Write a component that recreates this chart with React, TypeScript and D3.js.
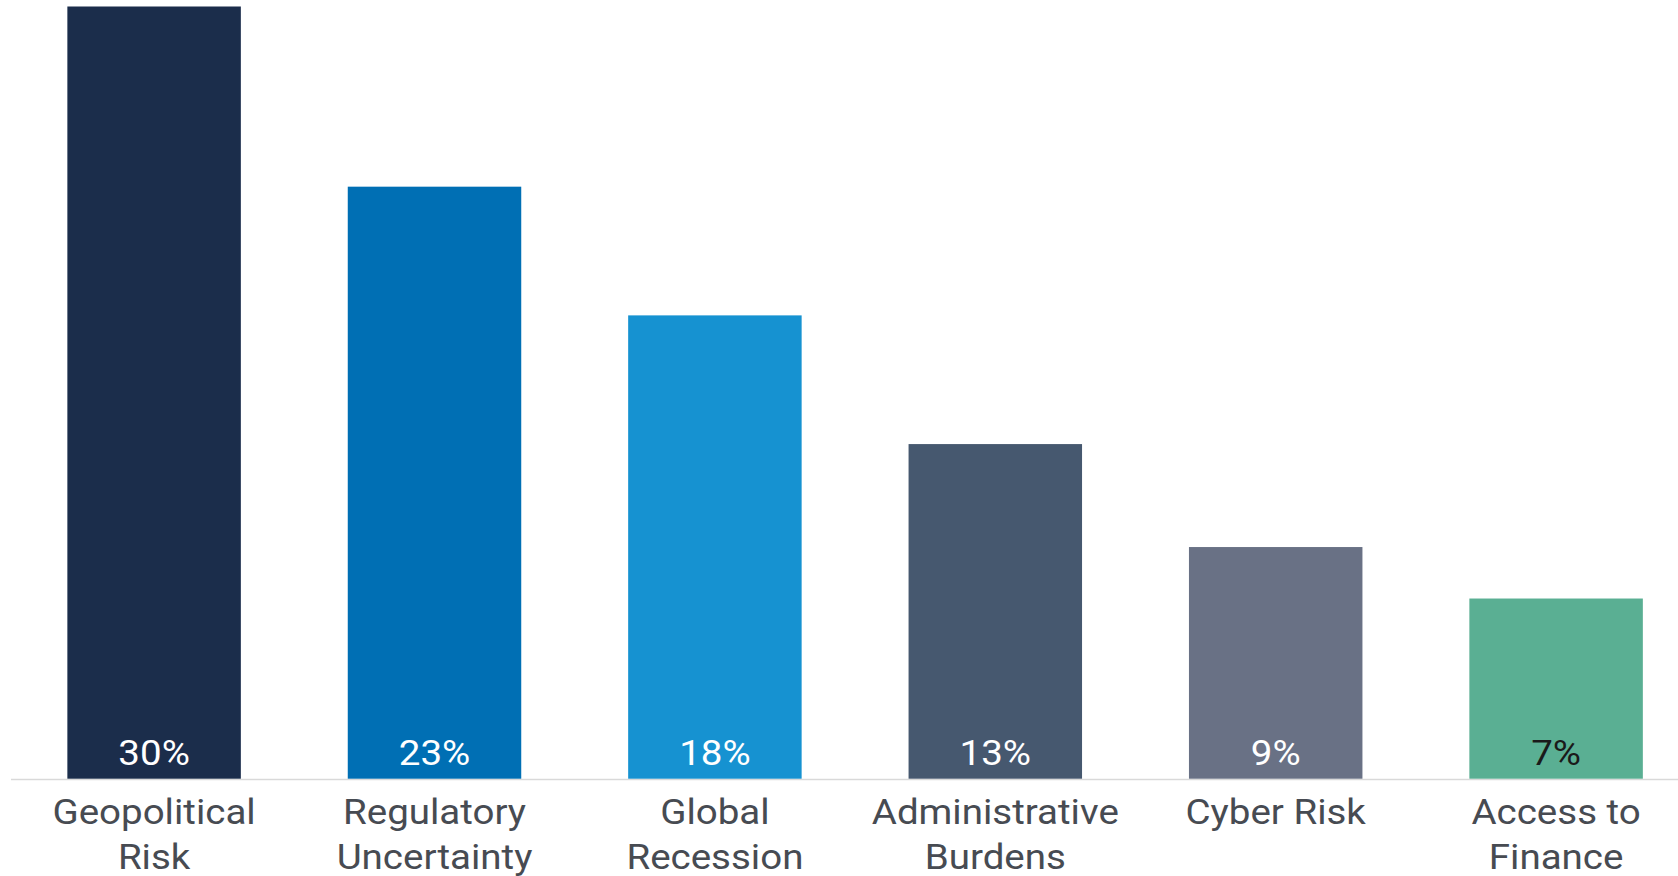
import React from "react";
import * as d3 from "d3";

const categories: string[][] = [
  ["Geopolitical", "Risk"],
  ["Regulatory", "Uncertainty"],
  ["Global", "Recession"],
  ["Administrative", "Burdens"],
  ["Cyber Risk"],
  ["Access to", "Finance"],
];
const values: number[] = [30, 23, 18, 13, 9, 7];
const valueLabels: string[] = ["30%", "23%", "18%", "13%", "9%", "7%"];
const barColors: string[] = ["#1b2d4b", "#006fb4", "#1692d1", "#46586f", "#697185", "#5aaf93"];
const labelColors: string[] = ["#ffffff", "#ffffff", "#ffffff", "#ffffff", "#ffffff", "#1a1a1a"];

const W = 1678;
const H = 876;
const BASE = 778.7;
const TOP = 6.5;
const SX = 1.1;

export default function App() {
  const keys = categories.map((c) => c.join(" "));
  const x = d3
    .scaleBand<string>()
    .domain(keys)
    .range([13.9, 13.9 + 6 * 280.4])
    .paddingInner(0.3813)
    .paddingOuter(0.19065);
  const y = d3.scaleLinear().domain([0, 30]).range([BASE, TOP]);
  const bw = x.bandwidth();

  return (
    <svg
      width={W}
      height={H}
      style={{ position: "fixed", left: 0, top: 0, background: "#fff" }}
      fontFamily="Roboto, sans-serif"
    >
      <line x1={11} x2={W} y1={BASE + 0.8} y2={BASE + 0.8} stroke="#d9d9d9" strokeWidth={1.5} />
      {values.map((v, i) => {
        const k = keys[i];
        const x0 = x(k) as number;
        const cx = x0 + bw / 2;
        return (
          <g key={k}>
            <rect x={x0} y={y(v)} width={bw} height={y(0) - y(v)} fill={barColors[i]} />
            <text
              transform={`translate(${cx},765) scale(${SX},1)`}
              textAnchor="middle"
              fontSize={35}
              fill={labelColors[i]}
            >
              {valueLabels[i]}
            </text>
            {categories[i].map((line, j) => (
              <text
                key={j}
                transform={`translate(${cx},${824 + j * 45}) scale(${SX},1)`}
                textAnchor="middle"
                fontSize={35}
                fill="#474b52"
              >
                {line}
              </text>
            ))}
          </g>
        );
      })}
    </svg>
  );
}
